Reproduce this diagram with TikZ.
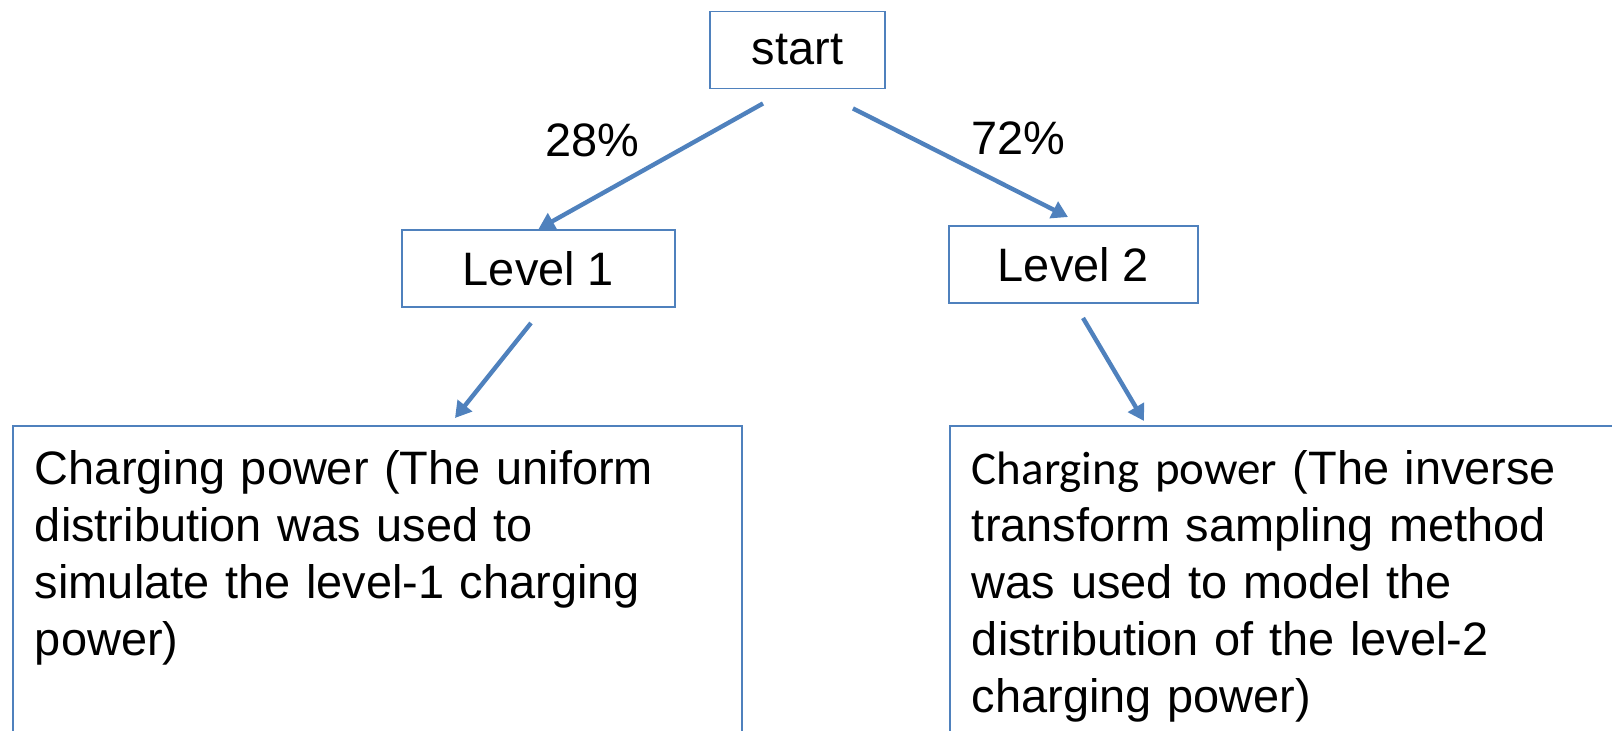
\documentclass[tikz,border=0pt]{standalone}
\usepackage{fontspec}
\setmainfont{Liberation Sans}
\newfontfamily\carlito{Carlito}
\usetikzlibrary{arrows.meta}
\definecolor{myblue}{RGB}{79,129,189}
\newcommand{\widthstart}{3.5cm}
\newcommand{\widthlevelA}{5.46cm}
\newcommand{\widthlevelB}{4.98cm}
\newcommand{\widthnote}{13.7cm}
\tikzset{
    common/.style={draw=myblue, line width=1.1pt, rectangle},
    levelbox/.style={common, minimum height=1.54cm},
    notebox/.style={common, anchor=north west, align=left, text width=\widthnote,
        inner xsep=0.44cm, inner ysep=0.5cm, text depth=6cm},
    link/.style={myblue, line width=2.5pt, -{Triangle[length=3.2mm, width=3.6mm]}}
}

\begin{document}
\begin{tikzpicture}[every node/.style={font=\fontsize{26.7}{32.3}\selectfont}]
    \useasboundingbox (0,0) rectangle (32.24,-14.62);
    \clip (0,0) rectangle (32.24,-14.62);

    \node[levelbox, minimum width=\widthstart] (start) at (15.95,-1.0) {start};
    \node[levelbox, minimum width=\widthlevelA] (lvl1) at (10.77,-5.37) {Level 1};
    \node[levelbox, minimum width=\widthlevelB] (lvl2) at (21.47,-5.29) {Level 2};

    \node[notebox] (note1) at (0.24,-8.5)
        {Charging power (The uniform\\distribution was used to\\simulate the level-1 charging\\power)};
    \node[notebox] (note2) at (18.98,-8.5)
        {{\carlito Charging power} (The inverse\\transform sampling method\\was used to model the\\distribution of the level-2\\charging power)};

    \node (p28) at (11.84,-2.81) {28\%};
    \node (p72) at (20.36,-2.77) {72\%};

    \draw[link] ([xshift=-0.69cm, yshift=-0.28cm]start.south) -- (lvl1.north);
    \draw[link] ([xshift=1.11cm, yshift=-0.38cm]start.south) -- ([xshift=-0.11cm, yshift=0.16cm]lvl2.north);
    \draw[link] ([xshift=-0.15cm, yshift=-0.3cm]lvl1.south) -- ([xshift=8.86cm, yshift=0.14cm]note1.north west);
    \draw[link] ([xshift=0.19cm, yshift=-0.28cm]lvl2.south) -- ([xshift=3.9cm, yshift=0.08cm]note2.north west);
\end{tikzpicture}
\end{document}
